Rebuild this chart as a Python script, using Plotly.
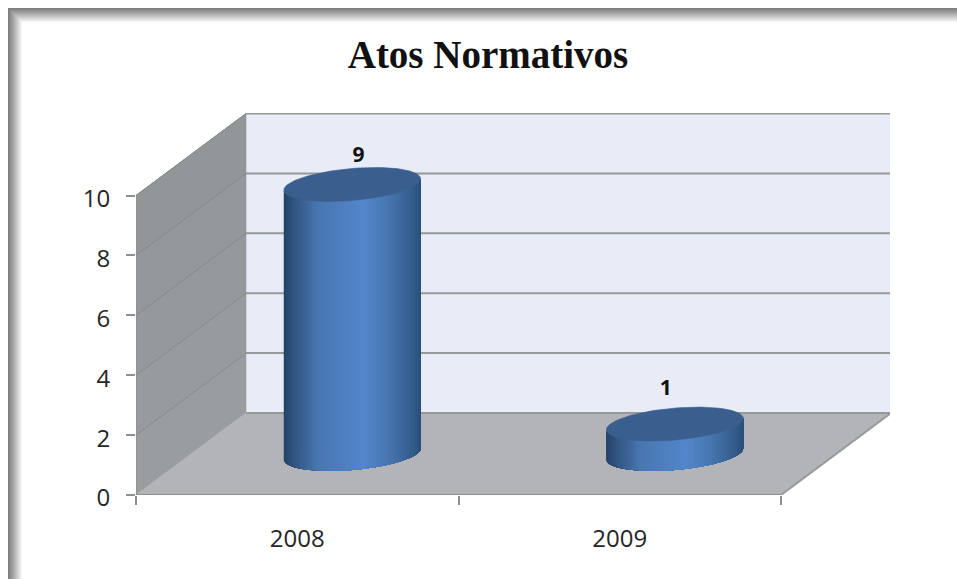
import numpy as np
import plotly.graph_objects as go

# ---- data ----
title_text = "Atos Normativos"
categories = ["2008", "2009"]
values = [9, 1]
y_ticks = [0, 2, 4, 6, 8, 10]
label_dx = [0.19, 0.143]
label_dy = [2.28, 2.5]

# ---- geometry ----
W, H = 957, 579
L, R, T, B = 136, 890, 113, 495      # plot area in page pixels
CAT_PX = 322.5                       # px per category
VAL_PX = 29.95                       # px per value unit
DEPTH_DX = 110 / CAT_PX              # one depth step in axis units
DEPTH_DY = 82 / VAL_PX
N_CAT = len(categories)
Y_MAX = y_ticks[-1]
XR = (R - L) / CAT_PX
YR = (B - T) / VAL_PX
BAR_R = 0.2                          # cylinder radius across the category
DEPTH_R = 0.207                      # cylinder radius along the depth
NO_HOVER = dict(hoverinfo="skip", showlegend=False, cliponaxis=False)


def proj(x, v, d):
    return x + d * DEPTH_DX, v + d * DEPTH_DY


def poly(pts, color, lw=0.6):
    xs = [p[0] for p in pts] + [pts[0][0]]
    ys = [p[1] for p in pts] + [pts[0][1]]
    return go.Scatter(x=xs, y=ys, mode="lines", fill="toself", fillcolor=color,
                      line=dict(width=lw, color=color), **NO_HOVER)


def seg(a, b, color, width):
    return go.Scatter(x=[a[0], b[0]], y=[a[1], b[1]], mode="lines",
                      line=dict(color=color, width=width), **NO_HOVER)


fig = go.Figure()

# walls
fig.add_trace(poly([proj(0, 0, 1), proj(N_CAT, 0, 1), proj(N_CAT, Y_MAX, 1), proj(0, Y_MAX, 1)], "#e8ecf6"))
wall_cols = ["#9a9da0", "#989b9e", "#96999c", "#94979b", "#939699"]
for i, c in enumerate(wall_cols):
    v0, v1 = i * 2, (i + 1) * 2
    fig.add_trace(poly([proj(0, v0, 0), proj(0, v0, 1), proj(0, v1, 1), proj(0, v1, 0)], c))
fig.add_trace(poly([proj(0, 0, 0), proj(N_CAT, 0, 0), proj(N_CAT, 0, 1), proj(0, 0, 1)], "#b2b4b8"))

# grid lines
for v in y_ticks:
    if v > 0:
        fig.add_trace(seg(proj(0, v, 0), proj(0, v, 1), "#85888a", 1))
    fig.add_trace(seg(proj(0, v, 1), proj(N_CAT, v, 1), "#97989a", 2))
fig.add_trace(seg(proj(0, 0, 0), proj(N_CAT, 0, 0), "#8f8f8f", 2))
fig.add_trace(seg(proj(N_CAT, 0, 0), proj(N_CAT, 0, 1), "#9a9a9a", 2))
fig.add_trace(seg(proj(0, 0, 0), proj(0, Y_MAX, 0), "#8f8f8f", 1.5))
fig.add_trace(seg(proj(0, Y_MAX, 0), proj(0, Y_MAX, 1), "#8f8f8f", 1))

# cylinders
stops = [(0.0, (38, 68, 106)), (0.08, (50, 86, 130)), (0.25, (73, 119, 176)),
         (0.58, (84, 134, 203)), (0.75, (73, 120, 178)), (0.93, (54, 94, 142)),
         (1.0, (46, 80, 122))]


def shade(f):
    return "rgb(%d,%d,%d)" % tuple(
        np.interp(f, [s[0] for s in stops], [s[1][k] for s in stops]) for k in range(3)
    )


U = BAR_R
Vx = DEPTH_R * DEPTH_DX
Vy = DEPTH_R * DEPTH_DY
half = float(np.hypot(U, Vx))
t0 = float(np.arctan2(Vx, U))


def rim(cat, v, t):
    return proj(cat + U * np.cos(t), v, 0.5 + DEPTH_R * np.sin(t))


def lower(cat, v, s):
    """Lower silhouette of the ellipse: s runs from pi (left) to 0 (right)."""
    cx, cy = proj(cat, v, 0.5)
    return cx + half * np.cos(s), cy + Vy * min(np.sin(t0 + s), np.sin(t0 - s))


N_STRIP = 80
angles = np.linspace(np.pi, 0, N_STRIP + 1)
for i, val in enumerate(values):
    cat = i + 0.5
    for a, b in zip(angles[:-1], angles[1:]):
        f = (np.cos((a + b) / 2) + 1) / 2
        # each strip runs on to the right end; the next one paints over it, so no seams show
        arc = [s for s in angles if s <= a]
        pts = [lower(cat, 0, s) for s in arc] + [lower(cat, val, s) for s in arc[::-1]]
        fig.add_trace(poly(pts, shade(f), lw=0))
    tt = np.linspace(0, 2 * np.pi, 121)
    fig.add_trace(poly([rim(cat, val, t) for t in tt], "#3a5f8e"))

# value labels
fig.add_trace(go.Scatter(
    x=[i + 0.5 + dx for i, dx in enumerate(label_dx)],
    y=[v + dy for v, dy in zip(values, label_dy)],
    mode="text", text=[str(v) for v in values], textposition="middle center",
    textfont=dict(family="Open Sans", size=21, color="#111111", weight=700),
    **NO_HOVER))


# screenshot frame: soft grey band along the top and left
def mix(f):
    g = int(128 + (255 - 128) * f ** 1.1)
    return "rgb(%d,%d,%d)" % (g, g, g)


def px_x(p):
    return (p - L) / (R - L)


def px_y(p):
    return (B - p) / (B - T)


shapes = []
BAND = 15
for k in range(BAND):
    col = mix(k / (BAND - 1))
    shapes.append(dict(type="rect", xref="paper", yref="paper", layer="below",
                       x0=px_x(8 + k), x1=px_x(9 + k), y0=px_y(8 + k), y1=px_y(H),
                       fillcolor=col, line_width=0))
    shapes.append(dict(type="rect", xref="paper", yref="paper", layer="below",
                       x0=px_x(8 + k), x1=px_x(W), y0=px_y(8 + k), y1=px_y(9 + k),
                       fillcolor=col, line_width=0))

tick_font = dict(family="Open Sans", size=24, color="#262626")
fig.update_layout(
    width=W, height=H, autosize=False,
    margin=dict(l=L, r=W - R, t=T, b=H - B, pad=0),
    paper_bgcolor="#ffffff", plot_bgcolor="rgba(0,0,0,0)",
    showlegend=False, hovermode=False, shapes=shapes,
    title=dict(text="<b>%s</b>" % title_text, x=488 / W, y=1 - 54 / H,
               xanchor="center", yanchor="middle",
               font=dict(family="Liberation Serif", size=39, color="#111111")),
    xaxis=dict(range=[0, XR], showgrid=False, zeroline=False, showline=False,
               tickmode="array", tickvals=[i + 0.5 for i in range(N_CAT)], ticktext=categories,
               ticks="", ticklabelstandoff=27, tickfont=tick_font,
               minor=dict(tickmode="array", tickvals=list(range(N_CAT + 1)), ticks="outside",
                          ticklen=9, tickwidth=1.5, tickcolor="#8f8f8f", showgrid=False)),
    yaxis=dict(range=[0, YR], showgrid=False, zeroline=False, showline=False,
               tickmode="array", tickvals=y_ticks, ticktext=[str(v) for v in y_ticks],
               ticks="outside", ticklen=9, tickwidth=1.5, tickcolor="#8f8f8f",
               ticklabelstandoff=11, ticklabelshift=3, tickfont=tick_font),
)

fig.write_html("out.html", config={"displayModeBar": False},
               post_script="document.body.style.margin='0';document.documentElement.style.overflow='hidden';")
